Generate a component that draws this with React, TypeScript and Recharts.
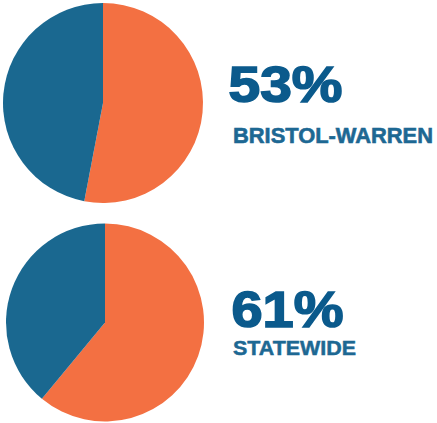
import { PieChart, Pie, Cell } from 'recharts';

const ORANGE = '#f37042';
const BLUE = '#1a6890';
const TEXT_DARK = '#0b5a8c';
const TEXT_LABEL = '#1d6893';

const sliceNames = ['Yes', 'No'];
const bristolValues = [53, 47];
const statewideValues = [61, 39];
const headlines = ['53%', '61%'];
const regionLabels = ['BRISTOL-WARREN', 'STATEWIDE'];

const bristolData = sliceNames.map((name, i) => ({ name, value: bristolValues[i] }));
const statewideData = sliceNames.map((name, i) => ({ name, value: statewideValues[i] }));
const sliceColors = [ORANGE, BLUE];

export default function App() {
  return (
    <div style={{ position: 'absolute', left: 0, top: 0, width: 437, height: 423, background: '#fff' }}>
      <PieChart
        width={437}
        height={423}
        margin={{ top: 0, right: 0, bottom: 0, left: 0 }}
        style={{ position: 'absolute', left: 0, top: 0 }}
      >
        <Pie
          data={bristolData}
          dataKey="value"
          cx={103}
          cy={103}
          outerRadius={100}
          startAngle={90}
          endAngle={-270}
          stroke="none"
          isAnimationActive={false}
        >
          {bristolData.map((d, i) => (
            <Cell key={d.name} fill={sliceColors[i]} />
          ))}
        </Pie>
        <Pie
          data={statewideData}
          dataKey="value"
          cx={105}
          cy={322.5}
          outerRadius={99}
          startAngle={90}
          endAngle={-270}
          stroke="none"
          isAnimationActive={false}
        >
          {statewideData.map((d, i) => (
            <Cell key={d.name} fill={sliceColors[i]} />
          ))}
        </Pie>
      </PieChart>
      <svg width={437} height={423} style={{ position: 'absolute', left: 0, top: 0 }}>
        <g fontFamily="'Liberation Sans', Arial, sans-serif" fontWeight="bold">
          <text x={228.5} y={102} fontSize={50} fill={TEXT_DARK} stroke={TEXT_DARK} strokeWidth={1.6}
            textLength={114} lengthAdjust="spacingAndGlyphs">
            {headlines[0]}
          </text>
          <text x={233} y={142.5} fontSize={22} fill={TEXT_LABEL} stroke={TEXT_LABEL} strokeWidth={0.6}
            textLength={200} lengthAdjust="spacingAndGlyphs">
            {regionLabels[0]}
          </text>
          <text x={231.5} y={326.5} fontSize={50} fill={TEXT_DARK} stroke={TEXT_DARK} strokeWidth={1.6}
            textLength={112} lengthAdjust="spacingAndGlyphs">
            {headlines[1]}
          </text>
          <text x={233} y={354.5} fontSize={21} fill={TEXT_LABEL} stroke={TEXT_LABEL} strokeWidth={0.5}
            textLength={123} lengthAdjust="spacingAndGlyphs">
            {regionLabels[1]}
          </text>
        </g>
      </svg>
    </div>
  );
}
